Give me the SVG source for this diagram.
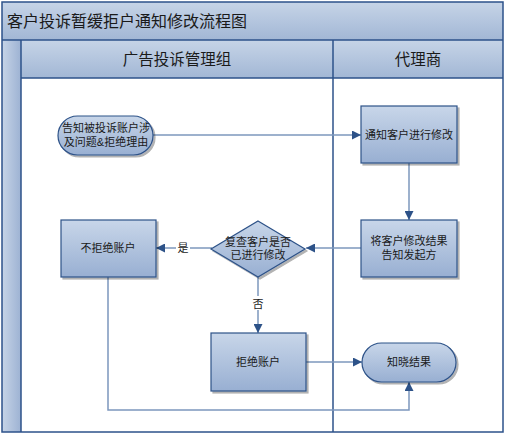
<svg xmlns="http://www.w3.org/2000/svg" width="508" height="436" viewBox="0 0 508 436">
<defs>
<linearGradient id="gv" x1="0" y1="0" x2="0" y2="1">
<stop offset="0" stop-color="#c8d6e9"/>
<stop offset="1" stop-color="#98afd2"/>
</linearGradient>
<linearGradient id="gh" x1="0" y1="0" x2="0" y2="1">
<stop offset="0" stop-color="#c6d4e7"/>
<stop offset="1" stop-color="#a2b7d5"/>
</linearGradient>
<linearGradient id="gs" x1="0" y1="0" x2="1" y2="0">
<stop offset="0" stop-color="#c6d4e7"/>
<stop offset="1" stop-color="#9db2d3"/>
</linearGradient>
<marker id="ar" viewBox="0 0 10 10" refX="10" refY="5" markerWidth="9" markerHeight="9" markerUnits="userSpaceOnUse" orient="auto">
<path d="M0,0 L10,5 L0,10 z" fill="#2d5288"/>
</marker>
<filter id="sh" x="-10%" y="-10%" width="130%" height="130%">
<feDropShadow dx="2" dy="2" stdDeviation="0.6" flood-color="#000" flood-opacity="0.3"/>
</filter>
</defs>
<style>
.frame{fill:none;stroke:#2c528a;stroke-width:1.5}
.lane{stroke:#2c528a;stroke-width:1.5}
.node{fill:url(#gv);stroke:#2d5288;stroke-width:1.2;filter:url(#sh)}
.t{font-family:"Liberation Sans","Noto Sans CJK SC",sans-serif;font-size:11px;fill:#1a1a1a;text-anchor:middle}
.hd{font-family:"Liberation Sans","Noto Sans CJK SC",sans-serif;font-size:15.5px;fill:#1a1a1a;text-anchor:middle}
.ttl{font-family:"Liberation Sans","Noto Sans CJK SC",sans-serif;font-size:16px;fill:#1a1a1a}
.c{fill:none;stroke:#7c97bd;stroke-width:1.5;marker-end:url(#ar)}
.lbl{font-family:"Liberation Sans","Noto Sans CJK SC",sans-serif;font-size:11px;fill:#1a1a1a;text-anchor:middle}
</style>
<rect x="0" y="0" width="508" height="436" fill="#ffffff"/>
<g id="pool">
<rect x="2" y="2" width="501" height="38" fill="url(#gh)"/>
<rect x="2" y="40" width="19" height="392" fill="url(#gs)"/>
<rect x="21" y="40" width="482" height="38" fill="url(#gh)"/>
<rect x="2" y="2" width="501" height="430" class="frame"/>
<line x1="2" y1="40" x2="503" y2="40" class="lane"/>
<line x1="21" y1="78" x2="503" y2="78" class="lane"/>
<line x1="21" y1="40" x2="21" y2="432" class="lane"/>
<line x1="333" y1="40" x2="333" y2="432" class="lane"/>
<text x="7" y="27" class="ttl">客户投诉暂缓拒户通知修改流程图</text>
<text x="177" y="65" class="hd">广告投诉管理组</text>
<text x="418" y="65" class="hd">代理商</text>
</g>
<g id="connectors">
<line x1="153" y1="135" x2="361" y2="135" class="c"/>
<line x1="409" y1="163" x2="409" y2="220" class="c"/>
<line x1="361" y1="248" x2="306" y2="248" class="c"/>
<line x1="212" y1="248" x2="156" y2="248" class="c"/>
<rect x="176" y="240" width="14" height="14" fill="#ffffff"/>
<text x="183" y="252" class="lbl">是</text>
<line x1="258" y1="277" x2="258" y2="333" class="c"/>
<rect x="251" y="296" width="14" height="14" fill="#ffffff"/>
<text x="258" y="308" class="lbl">否</text>
<line x1="306" y1="362" x2="362" y2="362" class="c"/>
<polyline points="108,277 108,410 409,410 409,382" class="c"/>
</g>
<g id="start">
<rect x="58" y="116" width="95" height="39" rx="19.5" class="node"/>
<text x="106" y="132" class="t">告知被投诉账户涉</text>
<text x="106" y="146" class="t">及问题&amp;拒绝理由</text>
</g>
<g id="notify">
<rect x="361" y="106" width="96" height="57" class="node"/>
<text x="409" y="139" class="t">通知客户进行修改</text>
</g>
<g id="report">
<rect x="361" y="220" width="96" height="57" class="node"/>
<text x="409" y="245" class="t">将客户修改结果</text>
<text x="409" y="259" class="t">告知发起方</text>
</g>
<g id="decision">
<polygon points="258,221 305,249 258,277 211,249" class="node"/>
<text x="258" y="246" class="t">复查客户是否</text>
<text x="258" y="259" class="t">已进行修改</text>
</g>
<g id="noreject">
<rect x="61" y="220" width="95" height="57" class="node"/>
<text x="108" y="252" class="t">不拒绝账户</text>
</g>
<g id="reject">
<rect x="211" y="333" width="95" height="58" class="node"/>
<text x="258" y="366" class="t">拒绝账户</text>
</g>
<g id="end">
<rect x="362" y="343" width="94" height="39" rx="19.5" class="node"/>
<text x="409" y="366" class="t">知晓结果</text>
</g>
</svg>
